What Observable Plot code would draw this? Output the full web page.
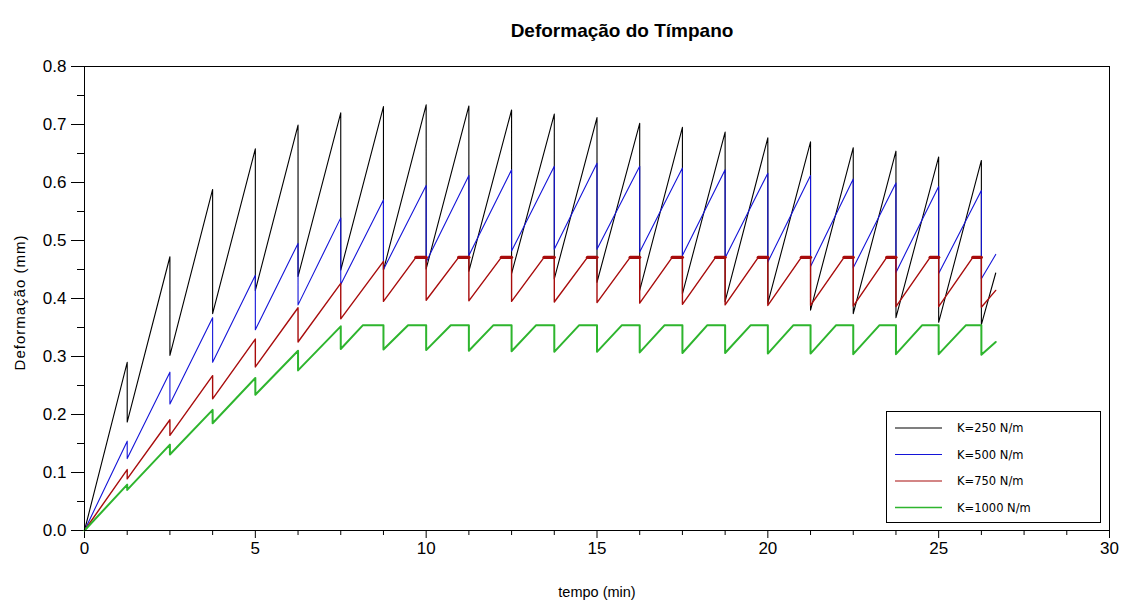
<!DOCTYPE html>
<html>
<head>
<meta charset="utf-8">
<script src="https://cdn.jsdelivr.net/npm/d3@7"></script>
<script src="https://cdn.jsdelivr.net/npm/@observablehq/plot@0.6"></script>
<style>
  html, body { margin: 0; padding: 0; background: #fff; }
  #chart { position: relative; width: 1122px; height: 603px; }
</style>
</head>
<body>
<div id="chart"></div>
<script>
// ---- data ----
const titleText = "Deformação do Tímpano";
const xLabel = "tempo (min)";
const yLabel = "Deformação (mm)";

const seriesNames = ["K=250 N/m", "K=500 N/m", "K=750 N/m", "K=1000 N/m"];
const seriesColors = ["#000000", "#1414d8", "#a80c0c", "#2eb52e"];

// times (min) at which every curve drops
const dropTimes = [1.25, 2.5, 3.75, 5, 6.25, 7.5, 8.75, 10, 11.25, 12.5, 13.75, 15,
  16.25, 17.5, 18.75, 20, 21.25, 22.5, 23.75, 25, 26.25];
const endTime = 26.67;

// K=250
const k250Peaks = [0.290, 0.472, 0.588, 0.658, 0.699, 0.720, 0.731, 0.734, 0.732, 0.725, 0.718,
  0.712, 0.702, 0.695, 0.687, 0.677, 0.670, 0.660, 0.654, 0.644, 0.638];
const k250Troughs = [0.187, 0.302, 0.374, 0.414, 0.438, 0.449, 0.449, 0.451, 0.447, 0.443, 0.434,
  0.428, 0.414, 0.408, 0.395, 0.392, 0.380, 0.374, 0.367, 0.359, 0.355];
const k250End = 0.444;

// K=500
const k500Peaks = [0.154, 0.273, 0.367, 0.440, 0.495, 0.539, 0.570, 0.595, 0.612, 0.622, 0.628,
  0.633, 0.628, 0.625, 0.622, 0.616, 0.612, 0.606, 0.599, 0.593, 0.586];
const k500Troughs = [0.124, 0.218, 0.290, 0.346, 0.389, 0.424, 0.450, 0.463, 0.474, 0.482, 0.485,
  0.485, 0.480, 0.474, 0.470, 0.463, 0.455, 0.453, 0.445, 0.443, 0.434];
const k500End = 0.476;

// K=750 (saturates at a plateau)
const k750Peaks = [0.105, 0.191, 0.267, 0.330, 0.384, 0.426, 0.464, 0.471, 0.471, 0.471, 0.471,
  0.471, 0.471, 0.471, 0.471, 0.471, 0.471, 0.471, 0.471, 0.471, 0.471];
const k750Troughs = [0.089, 0.164, 0.227, 0.282, 0.325, 0.365, 0.395, 0.397, 0.396, 0.395, 0.394,
  0.393, 0.392, 0.390, 0.389, 0.388, 0.388, 0.387, 0.386, 0.386, 0.385];
const k750PlateauStart = [null, null, null, null, null, null, null, 9.7, 10.95, 12.2, 13.45,
  14.72, 15.97, 17.2, 18.47, 19.72, 20.98, 22.23, 23.48, 24.75, 26.0];
const k750End = 0.414;

// K=1000 (saturates at a plateau)
const k1000Peaks = [0.079, 0.148, 0.208, 0.263, 0.310, 0.352, 0.354, 0.354, 0.354, 0.354, 0.354,
  0.354, 0.354, 0.354, 0.354, 0.354, 0.354, 0.354, 0.354, 0.354, 0.354];
const k1000Troughs = [0.070, 0.131, 0.185, 0.234, 0.276, 0.313, 0.312, 0.311, 0.310, 0.309, 0.308,
  0.308, 0.307, 0.306, 0.306, 0.305, 0.305, 0.304, 0.304, 0.304, 0.303];
const k1000PlateauStart = [null, null, null, null, null, null, 8.15, 9.47, 10.72, 11.97, 13.22,
  14.48, 15.73, 16.98, 18.23, 19.5, 20.75, 22.0, 23.27, 24.52, 25.8];
const k1000End = 0.325;

// axis ticks
const xMajorTicks = [0, 5, 10, 15, 20, 25, 30];
const xMinorTicks = [1.25, 2.5, 3.75, 6.25, 7.5, 8.75, 11.25, 12.5, 13.75, 16.25, 17.5, 18.75,
  21.25, 22.5, 23.75, 26.25, 27.5, 28.75];
const yMajorTicks = [0, 0.1, 0.2, 0.3, 0.4, 0.5, 0.6, 0.7, 0.8];
const yMinorTicks = [0.05, 0.15, 0.25, 0.35, 0.45, 0.55, 0.65, 0.75];

// ---- build polylines ----
function buildSeries(peaks, troughs, plateau, endV) {
  const pts = [{t: 0, v: 0}];
  dropTimes.forEach((dt, i) => {
    if (plateau && plateau[i] != null) pts.push({t: plateau[i], v: peaks[i]});
    pts.push({t: dt, v: peaks[i]});
    pts.push({t: dt, v: troughs[i]});
  });
  pts.push({t: endTime, v: endV});
  return pts;
}
function buildPlateaus(peaks, plateau) {
  const segs = [];
  dropTimes.forEach((dt, i) => {
    if (plateau[i] != null) {
      segs.push({t: plateau[i], v: peaks[i], s: i});
      segs.push({t: dt, v: peaks[i], s: i});
    }
  });
  return segs;
}

const s250 = buildSeries(k250Peaks, k250Troughs, null, k250End);
const s500 = buildSeries(k500Peaks, k500Troughs, null, k500End);
const s750 = buildSeries(k750Peaks, k750Troughs, k750PlateauStart, k750End);
const s1000 = buildSeries(k1000Peaks, k1000Troughs, k1000PlateauStart, k1000End);
const p750 = buildPlateaus(k750Peaks, k750PlateauStart);

const font = "'Liberation Sans', Arial, sans-serif";

const chart = Plot.plot({
  width: 1122,
  height: 603,
  marginLeft: 84,
  marginRight: 13,
  marginTop: 66,
  marginBottom: 73,
  style: {fontFamily: font, fontSize: "14px", color: "#000", background: "#fff", overflow: "visible"},
  x: {domain: [0, 30], axis: null},
  y: {domain: [0, 0.8], axis: null},
  marks: [
    Plot.axisY(yMinorTicks, {tickSize: 7, tickFormat: () => "", label: null}),
    Plot.axisY(yMajorTicks, {tickSize: 13, tickPadding: 5, tickFormat: d3.format(".1f"), label: null, fontSize: 17}),
    Plot.axisX(xMinorTicks, {tickSize: 5, tickFormat: () => "", label: null}),
    Plot.axisX(xMajorTicks, {tickSize: 8, tickPadding: 3, tickFormat: d3.format("d"), label: null, fontSize: 17}),
    Plot.line(s250, {x: "t", y: "v", stroke: seriesColors[0], strokeWidth: 1.1}),
    Plot.line(s500, {x: "t", y: "v", stroke: seriesColors[1], strokeWidth: 1.1}),
    Plot.line(s750, {x: "t", y: "v", stroke: seriesColors[2], strokeWidth: 1.4}),
    Plot.line(p750, {x: "t", y: "v", z: "s", stroke: seriesColors[2], strokeWidth: 3.2}),
    Plot.line(s1000, {x: "t", y: "v", stroke: seriesColors[3], strokeWidth: 2}),
    Plot.frame({stroke: "#000", strokeWidth: 1}),
    Plot.text([titleText], {frameAnchor: "top", lineAnchor: "middle", dy: -36, dx: 25, fontSize: 19, fontWeight: "bold"}),
    Plot.text([xLabel], {frameAnchor: "bottom", lineAnchor: "middle", dy: 62, fontSize: 14.5}),
    Plot.text([yLabel], {frameAnchor: "left", dx: -64, dy: 4, rotate: -90, textAnchor: "middle", fontSize: 15})
  ]
});

document.getElementById("chart").appendChild(chart);

const svg = d3.select(chart);
// the rotated axis title in the reference is letter-spaced
svg.selectAll("text").filter(function() { return this.textContent === yLabel; })
  .style("letter-spacing", "1px");

// ---- legend box drawn into the same SVG ----
const lg = svg.append("g").attr("font-family", "'DejaVu Sans', sans-serif").attr("font-size", 11.5)
  .attr("text-anchor", "start");
lg.append("rect").attr("x", 886.5).attr("y", 411.5).attr("width", 214).attr("height", 111)
  .attr("fill", "#fff").attr("stroke", "#000").attr("stroke-width", 1);
const rowY = [428, 454.5, 481, 507.5];
seriesNames.forEach((name, i) => {
  lg.append("line").attr("x1", 895).attr("x2", 942).attr("y1", rowY[i]).attr("y2", rowY[i])
    .attr("stroke", seriesColors[i]).attr("stroke-width", i === 3 ? 1.6 : 1.2);
  lg.append("text").attr("x", 957).attr("y", rowY[i]).attr("dy", "0.35em")
    .attr("text-anchor", "start").attr("fill", "#000").text(name);
});
</script>
</body>
</html>
